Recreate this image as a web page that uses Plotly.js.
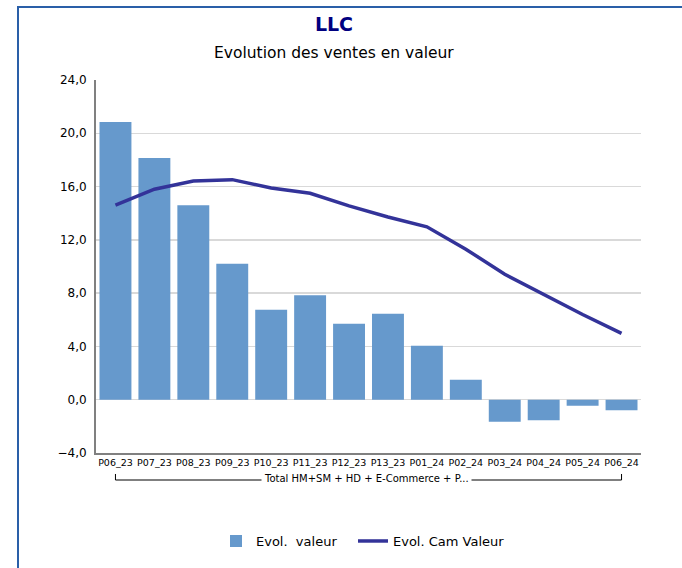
<!DOCTYPE html>
<html>
<head>
<meta charset="utf-8">
<script src="https://cdn.plot.ly/plotly-3.0.1.min.js"></script>
<style>
html,body{margin:0;padding:0;background:#fff;}
#wrap{position:relative;width:682px;height:568px;overflow:hidden;}
#chart{position:absolute;left:0;top:0;width:682px;height:568px;}
#frame{position:absolute;left:17px;top:6px;width:700px;height:600px;border-top:2px solid #2a5fa8;border-left:2px solid #2a5fa8;pointer-events:none;}
</style>
</head>
<body>
<div id="wrap"><div id="chart"></div><div id="frame"></div></div>
<script>
const categories = ['P06_23','P07_23','P08_23','P09_23','P10_23','P11_23','P12_23','P13_23','P01_24','P02_24','P03_24','P04_24','P05_24','P06_24'];
const evolValeur = [20.85, 18.15, 14.6, 10.2, 6.75, 7.85, 5.7, 6.45, 4.05, 1.5, -1.65, -1.55, -0.45, -0.8];
const evolCamValeur = [14.6, 15.8, 16.42, 16.52, 15.9, 15.5, 14.55, 13.72, 12.98, 11.3, 9.42, 7.9, 6.4, 4.98];
const groupLabel = 'Total HM+SM + HD + E-Commerce + P...';
const yTicks = [-4, 0, 4, 8, 12, 16, 20, 24];

const traces = [
  {type:'bar', name:'Evol.  valeur', x:categories, y:evolValeur,
   marker:{color:'#6699cc'}, hoverinfo:'x+y', legend:'legend'},
  {type:'scatter', mode:'lines', name:'Evol. Cam Valeur', x:categories, y:evolCamValeur,
   line:{color:'#333399', width:3.5}, legend:'legend2'}
];

const baseFont = 'DejaVu Sans, Verdana, sans-serif';
const legendCommon = {orientation:'h', xanchor:'left', y:-0.236, yanchor:'middle',
                      font:{family:baseFont, size:13}, itemwidth:30, bgcolor:'rgba(0,0,0,0)'};
const layout = {
  width:682, height:568,
  paper_bgcolor:'#ffffff', plot_bgcolor:'#ffffff',
  margin:{l:96, r:41, t:80, b:115},
  separators:',.',
  bargap:0.18,
  font:{family:baseFont, color:'#000', size:12},
  title:{text:'<b>LLC</b>', font:{family:baseFont, size:19, color:'#000080'},
         x:334/682, xref:'container', xanchor:'center', y:1-24/568, yref:'container', yanchor:'middle'},
  xaxis:{type:'category', showgrid:false, showline:true, linecolor:'#808080', linewidth:2,
         ticks:'', tickangle:0, tickfont:{family:baseFont, size:9.5}},
  yaxis:{range:[-4,24], tickvals:yTicks, tickformat:'.1f', showgrid:true, gridcolor:'#d9d9d9', gridwidth:1.5,
         zeroline:false, showline:true, linecolor:'#808080', linewidth:2, ticks:'',
         ticklabelstandoff:5, tickfont:{family:baseFont, size:12}},
  showlegend:true,
  legend:Object.assign({}, legendCommon, {x:(216-96)/545}),
  legend2:Object.assign({}, legendCommon, {x:(353-96)/545}),
  shapes:[
    {type:'line', xref:'x', yref:'paper', x0:categories[0], x1:categories[categories.length-1], y0:-0.0724, y1:-0.0724, line:{color:'#000', width:1}},
    {type:'line', xref:'x', yref:'paper', x0:categories[0], x1:categories[0], y0:-0.0724, y1:-0.0563, line:{color:'#000', width:1}},
    {type:'line', xref:'x', yref:'paper', x0:categories[categories.length-1], x1:categories[categories.length-1], y0:-0.0724, y1:-0.0563, line:{color:'#000', width:1}}
  ],
  annotations:[
    {text:'Evolution des ventes en valeur', xref:'paper', yref:'paper', x:(334-96)/545, y:1+(80-53)/373,
     xanchor:'center', yanchor:'middle', showarrow:false, font:{family:baseFont, size:15.5, color:'#000'}},
    {text:groupLabel, xref:'paper', yref:'paper', x:(366-96)/545, y:-0.0683, xanchor:'center', yanchor:'middle',
     showarrow:false, bgcolor:'#ffffff', borderpad:2, font:{family:baseFont, size:10, color:'#000'}}
  ]
};

Plotly.newPlot('chart', traces, layout, {displayModeBar:false, staticPlot:true});
</script>
</body>
</html>
